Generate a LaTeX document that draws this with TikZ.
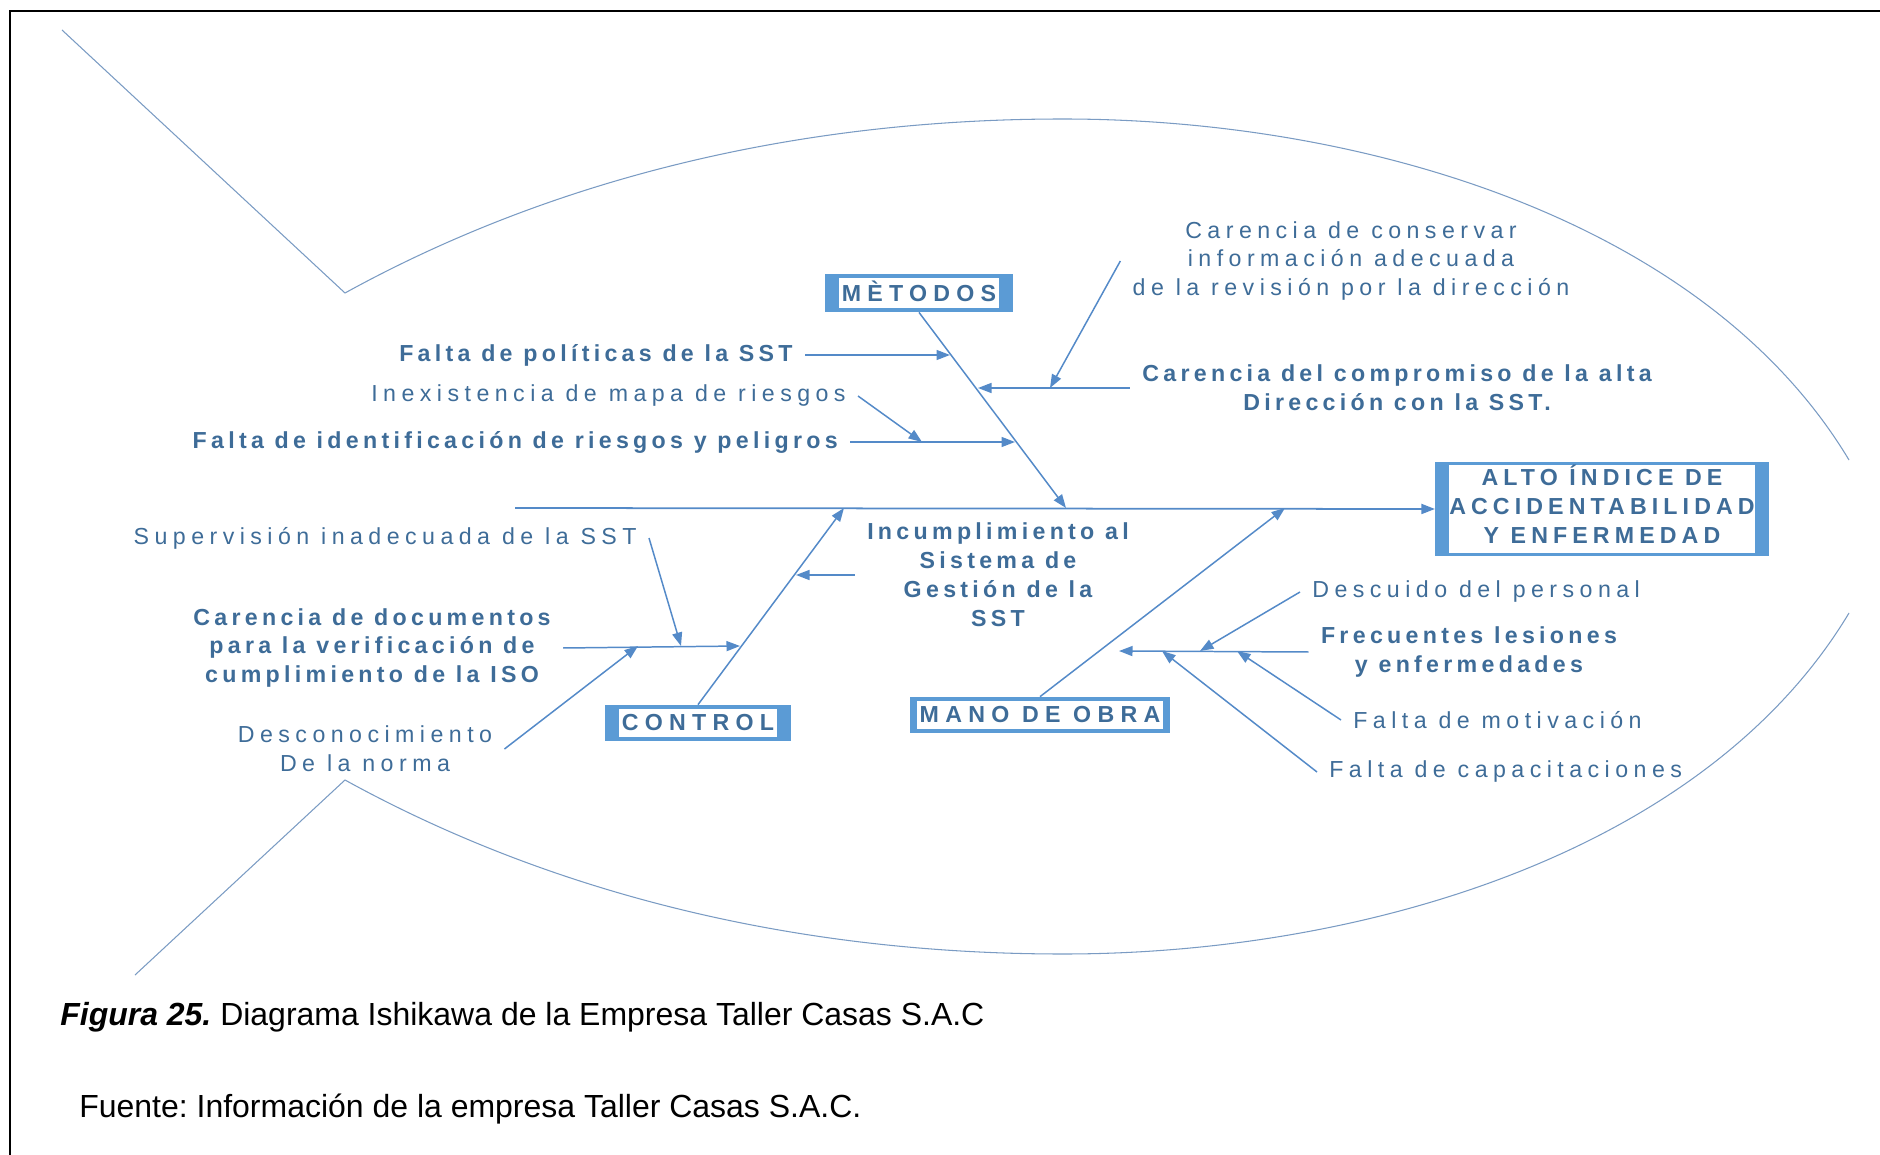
\documentclass[tikz,border=0pt]{standalone}
\usepackage{fontspec}
\setmainfont{Liberation Sans}
\newfontfamily\lblfont[LetterSpace=23.5]{Liberation Sans}
\newfontfamily\lblboldfont[LetterSpace=18.5]{Liberation Sans}
\newfontfamily\boxfont[LetterSpace=27]{Liberation Sans}
\newfontfamily\efffont[LetterSpace=22]{Liberation Sans}
\usepackage{xcolor}
\definecolor{textblue}{RGB}{62,108,152}
\definecolor{boxblue}{RGB}{91,155,213}
\definecolor{lineblue}{RGB}{84,138,200}
\definecolor{fishblue}{RGB}{122,155,195}
\usetikzlibrary{arrows.meta}
\newcommand{\catinner}[1]{{\setlength{\fboxsep}{0.05cm}\colorbox{white}{\rule[-0.09cm]{0pt}{0.46cm}#1}}}
\newcommand{\effinner}[1]{{\setlength{\fboxsep}{0pt}\colorbox{white}{#1}}}
\frenchspacing

\begin{document}
\begin{tikzpicture}[x=0.02cm, y=-0.02cm,
        lbl/.style={text=textblue, inner xsep=0.24cm, inner ysep=0pt, align=center, font={\lblfont\fontsize{13.2}{16.5}\selectfont}},
        lblb/.style={lbl, font={\lblboldfont\bfseries\fontsize{13.2}{16.5}\selectfont}},
        catbox/.style={fill=boxblue, inner xsep=0.28cm, inner ysep=0.08cm, text=textblue, font={\boxfont\bfseries\fontsize{13.2}{16.5}\selectfont}},
        effbox/.style={catbox, inner ysep=0.07cm, font={\efffont\bfseries\fontsize{13.2}{16.5}\selectfont}},
        arr/.style={draw=lineblue, line width=0.85pt, -{Triangle[length=0.27cm,width=0.2cm]}},
        fish/.style={draw=fishblue, line width=0.6pt},
        capt/.style={inner sep=0pt, anchor=west, font={\fontsize{18.2}{22}\selectfont}}]
        \useasboundingbox (0,0) rectangle (1880,1155);

        \draw[line width=0.04cm] (10,1155) -- (10,11) -- (1880,11);

        \draw[fish] (62,30) -- (345,293) .. controls (565,172) and (813,119) .. (1063,119) .. controls (1363,119) and (1705,220) .. (1849,460);
        \draw[fish] (135,975) -- (345,780) .. controls (565,901) and (813,954) .. (1063,954) .. controls (1363,954) and (1705,853) .. (1849,613);

        \node[catbox] (met) at (919,293) {\catinner{MÈTODOS}};
        \node[catbox] (ctl) at (698,723) {\catinner{CONTROL}};
        \node[catbox, inner xsep=0.14cm] (mob) at (1040,715) {\catinner{MANO DE OBRA}};
        \node[effbox] (eff) at (1602,509) {\effinner{\begin{tabular}{@{}c@{}}ALTO ÍNDICE DE\\ACCIDENTABILIDAD\\Y ENFERMEDAD\end{tabular}}};

        \node[lblb, anchor=east] (fpol) at (805,355) {Falta de políticas de la SST};
        \node[lbl, anchor=east] (inex) at (858,396) {Inexistencia de mapa de riesgos};
        \node[lblb, anchor=east] (fid) at (850,442) {Falta de identificación de riesgos y peligros};
        \node[lbl] (ccons) at (1351,261) {Carencia de conservar\\información adecuada\\de la revisión por la dirección};
        \node[lblb] (ccomp) at (1397,388) {Carencia del compromiso de la alta\\Dirección con la SST.};

        \node[lbl, anchor=east] (sup) at (649,538) {Supervisión inadecuada de la SST};
        \node[lblb] (cdoc) at (372,648) {Carencia de documentos\\para la verificación de\\cumplimiento de la ISO};
        \node[lbl] (desc) at (365,749) {Desconocimiento\\De la norma};
        \node[lblb] (incum) at (998,575) {Incumplimiento al\\Sistema de\\Gestión de la\\SST};

        \node[lbl, anchor=west] (descu) at (1300,592) {Descuido del personal};
        \node[lblb] (frec) at (1469,652) {Frecuentes lesiones\\y enfermedades};
        \node[lbl, anchor=west] (motiv) at (1341,720) {Falta de motivación};
        \node[lbl, anchor=west] (capac) at (1317,772) {Falta de capacitaciones};

        \coordinate (spinestart) at (515,508);
        \coordinate (mtip) at (1066,508);
        \coordinate (ctip) at (844,508);
        \coordinate (otip) at (1285,508);
        \coordinate (fpoltip) at (950,355);
        \coordinate (inextip) at (922,442);
        \coordinate (fidtip) at (1015,442);
        \coordinate (ccomptip) at (978,388);
        \coordinate (cconstip) at (1050,388);
        \coordinate (suptip) at (681,646);
        \coordinate (cdoctip) at (740,646);
        \coordinate (desctip) at (638,646);
        \coordinate (incumtip) at (796,575);
        \coordinate (frectip) at (1119,651);
        \coordinate (descutip) at (1200,651);
        \coordinate (motivtip) at (1237,651);
        \coordinate (capactip) at (1162,651);

        \draw[arr, line width=1pt] (spinestart) -- (eff.west);
        \draw[arr] (met.south) -- (mtip);
        \draw[arr] (ctl.north) -- (ctip);
        \draw[arr] (mob.north) -- (otip);

        \draw[arr] (fpol.east) -- (fpoltip);
        \draw[arr] (inex.east) -- (inextip);
        \draw[arr] (fid.east) -- (fidtip);
        \draw[arr] (ccomp.west) -- (ccomptip);
        \draw[arr] (ccons.west) -- (cconstip);

        \draw[arr] (sup.east) -- (suptip);
        \draw[arr] (cdoc.east) -- (cdoctip);
        \draw[arr] (desc.east) -- (desctip);
        \draw[arr] (incum.west) -- (incumtip);

        \draw[arr] (frec.west) -- (frectip);
        \draw[arr] (descu.west) -- (descutip);
        \draw[arr] (motiv.west) -- (motivtip);
        \draw[arr] (capac.west) -- (capactip);

        \node[capt] (fig) at (60,1017) {\textbf{\textit{Figura 25.}} Diagrama Ishikawa de la Empresa Taller Casas S.A.C};
        \node[capt] (src) at (79,1109) {Fuente: Información de la empresa Taller Casas S.A.C.};
\end{tikzpicture}
\end{document}
